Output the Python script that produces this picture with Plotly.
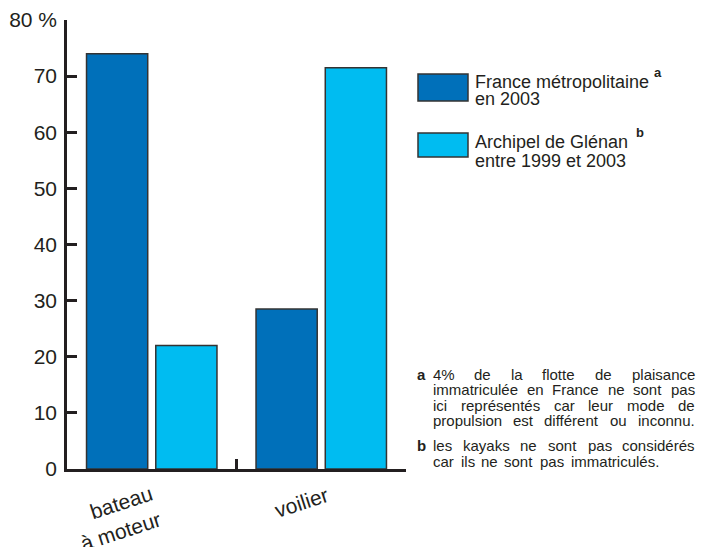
import plotly.graph_objects as go

# ---------------- data ----------------
categories = ["bateau<br>à moteur", "voilier"]
france_2003 = [74.0, 28.5]
glenan_1999_2003 = [22.0, 71.5]
series_names = ["France métropolitaine", "Archipel de Glénan"]
series_sub = ["en 2003", "entre 1999 et 2003"]
series_marks = ["a", "b"]
y_tickvals = [0, 10, 20, 30, 40, 50, 60, 70, 80]
y_ticktext = ["0", "10", "20", "30", "40", "50", "60", "70", "80 %"]
note_a_lines = [
    "4% de la flotte de plaisance",
    "immatriculée en France ne sont pas",
    "ici représentés car leur mode de",
    "propulsion est différent ou inconnu.",
]
note_b_lines = [
    "les kayaks ne sont pas considérés",
    "car ils ne sont pas immatriculés.",
]

# ---------------- style ----------------
DARK = "#0070BA"
LIGHT = "#00BCF1"
INK = "#231f20"
FONT = "Liberation Sans, Arial, Helvetica, sans-serif"

BODY = 8  # default page margin around the plot div
W, H = 704 - BODY, 547 - BODY
PL, PT, PW, PH = 67, 20, 339, 449  # plot area in page pixels
L, T = PL - BODY, PT - BODY
R, B = W - L - PW, H - T - PH


def PX(x):
    return (x - PL) / PW


def PY(y):
    return (PT + PH - y) / PH


fig = go.Figure()
fig.add_trace(go.Bar(x=[0, 1], y=france_2003, marker=dict(color=DARK, line=dict(color="#333333", width=1.5)),
                     name=series_names[0], showlegend=False))
fig.add_trace(go.Bar(x=[0, 1], y=glenan_1999_2003, marker=dict(color=LIGHT, line=dict(color="#333333", width=1.5)),
                     name=series_names[1], showlegend=False))

fig.update_layout(
    width=W, height=H,
    margin=dict(l=L, r=R, t=T, b=B, pad=0, autoexpand=False),
    paper_bgcolor="white", plot_bgcolor="white",
    barmode="group", bargap=0.183, bargroupgap=0.116,
    font=dict(family=FONT, color=INK),
    showlegend=False,
)
fig.update_xaxes(
    range=[-0.5, 1.5], showgrid=False, zeroline=False, automargin=False,
    showline=True, linecolor=INK, linewidth=2.5,
    tickvals=[0.5, 1.5], ticktext=["", ""], ticks="inside", ticklen=10,
    tickwidth=2.5, tickcolor=INK, showticklabels=False,
)
fig.update_yaxes(
    range=[0, 80], showgrid=False, zeroline=False, automargin=False,
    showline=True, linecolor=INK, linewidth=2.5,
    tickvals=y_tickvals, ticktext=y_ticktext, ticks="inside", ticklen=10,
    tickwidth=2.5, tickcolor=INK, tickfont=dict(size=21, color=INK, family=FONT),
    ticklabelstandoff=3,
)

ann = []
# category labels (rotated)
cat_shift = [(-35, -49), (-20, -33)]
for i, c in enumerate(categories):
    ann.append(dict(x=i, xref="x", y=0, yref="paper", text=c, showarrow=False,
                    xanchor="center", yanchor="middle", align="right", textangle=-18,
                    xshift=cat_shift[i][0], yshift=cat_shift[i][1],
                    font=dict(size=21, color=INK, family=FONT)))

# legend
shapes = []
leg_boxes = [(74, 101), (133, 157)]
leg_cols = [DARK, LIGHT]
leg_text_y = [(81.5, 99.5), (141.5, 161)]
leg_mark_pos = [(658, 72), (640, 133)]
for k in range(2):
    y0, y1 = leg_boxes[k]
    shapes.append(dict(type="rect", xref="paper", yref="paper",
                       x0=PX(418), x1=PX(468), y0=PY(y1), y1=PY(y0),
                       fillcolor=leg_cols[k], line=dict(color="#333333", width=1.5)))
    ann.append(dict(x=PX(473), y=PY(leg_text_y[k][0]), xref="paper", yref="paper",
                    text=series_names[k], showarrow=False, xanchor="left", yanchor="middle",
                    font=dict(size=18, color=INK, family=FONT)))
    ann.append(dict(x=PX(473), y=PY(leg_text_y[k][1]), xref="paper", yref="paper",
                    text=series_sub[k], showarrow=False, xanchor="left", yanchor="middle",
                    font=dict(size=18, color=INK, family=FONT)))
    ann.append(dict(x=PX(leg_mark_pos[k][0]), y=PY(leg_mark_pos[k][1]), xref="paper", yref="paper",
                    text="<b>%s</b>" % series_marks[k], showarrow=False, xanchor="center", yanchor="middle",
                    font=dict(size=13, color=INK, family=FONT)))

# footnotes with justified lines (word by word)
CW = {" ": 278, "%": 889, ".": 278, "F": 611, "é": 556, "à": 556,
      "f": 278, "i": 222, "j": 222, "l": 222, "t": 278, "r": 333, "m": 833, "w": 722,
      "c": 500, "k": 500, "s": 500, "v": 500, "x": 500, "y": 500, "z": 500}
FS = 15.0
NOTE_L, NOTE_R = 433, 695


def wwidth(word):
    return sum(CW.get(ch, 556) for ch in word) * FS / 1000.0


def add_line(text, y, x_left, x_right):
    words = text.split(" ")
    widths = [wwidth(w) for w in words]
    gap = (x_right - x_left - sum(widths)) / (len(words) - 1)
    x = x_left
    n = len(words)
    for j, (w, wd) in enumerate(zip(words, widths)):
        if j == 0:
            xa, xp = "left", x
        elif j == n - 1:
            xa, xp = "right", x_right
        else:
            xa, xp = "center", x + wd / 2
        ann.append(dict(x=PX(xp), y=PY(y), xref="paper", yref="paper", text=w, showarrow=False,
                        xanchor=xa, yanchor="middle", borderpad=0, borderwidth=0,
                        font=dict(size=FS, color=INK, family=FONT)))
        x += wd + gap


a_y = [374, 389.5, 405, 420.5]
b_y = [445.5, 461]
for i, line in enumerate(note_a_lines):
    add_line(line, a_y[i], NOTE_L, NOTE_R)
for i, line in enumerate(note_b_lines):
    add_line(line, b_y[i], NOTE_L, NOTE_R if i == 0 else 659)
ann.append(dict(x=PX(421), y=PY(a_y[0]), xref="paper", yref="paper", text="<b>a</b>", showarrow=False,
                xanchor="center", yanchor="middle", font=dict(size=15, color=INK, family=FONT)))
ann.append(dict(x=PX(421), y=PY(b_y[0]), xref="paper", yref="paper", text="<b>b</b>", showarrow=False,
                xanchor="center", yanchor="middle", font=dict(size=15, color=INK, family=FONT)))

fig.update_layout(annotations=ann, shapes=shapes)
fig.write_html("out.html")
